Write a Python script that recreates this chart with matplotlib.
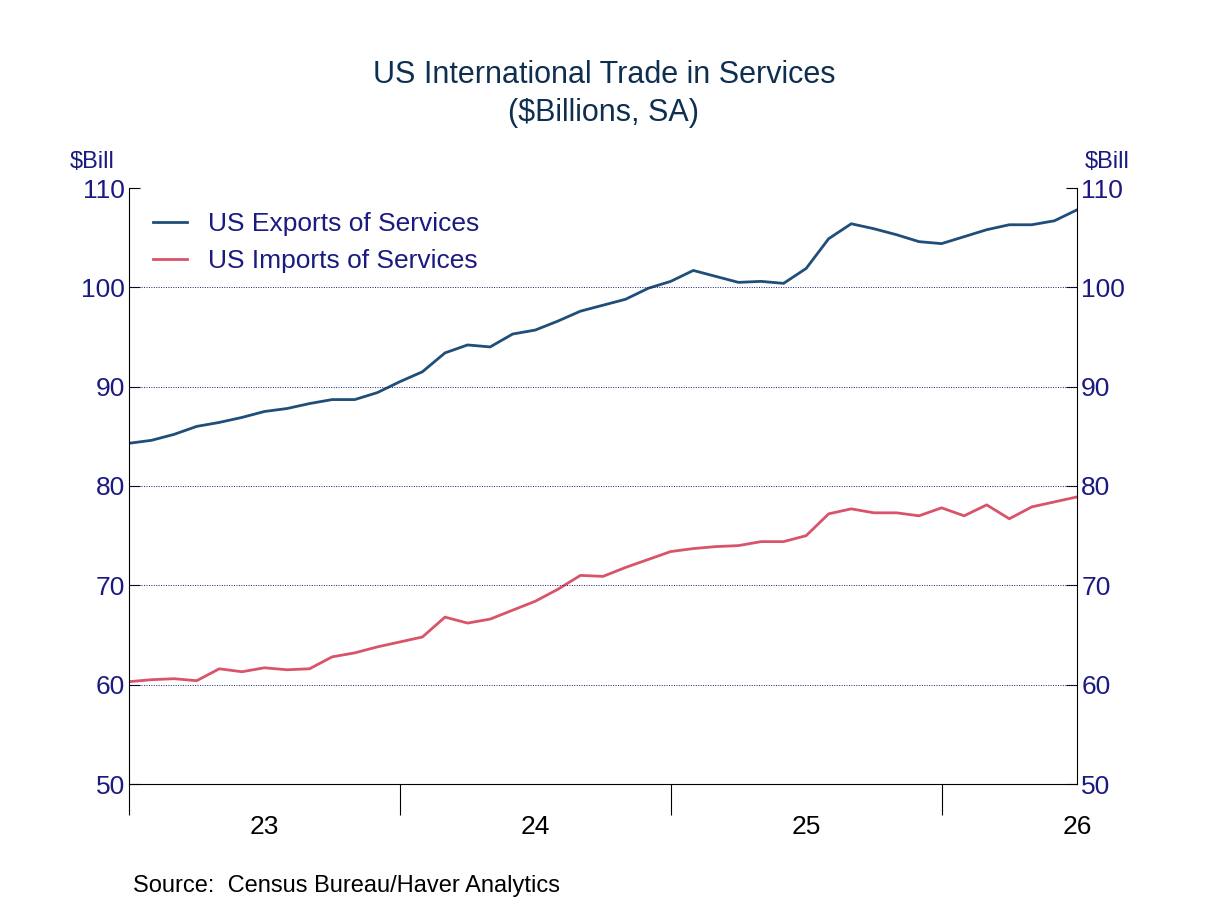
import numpy as np
import matplotlib.pyplot as plt

exports = [84.3, 84.6, 85.2, 86.0, 86.4, 86.9, 87.5, 87.8, 88.3, 88.7, 88.7, 89.4,
           90.5, 91.5, 93.4, 94.2, 94.0, 95.3, 95.7, 96.6, 97.6, 98.2, 98.8, 99.9,
           100.6, 101.7, 101.1, 100.5, 100.6, 100.4, 101.9, 104.9, 106.4, 105.9, 105.3, 104.6,
           104.4, 105.1, 105.8, 106.3, 106.3, 106.7, 107.8]
imports = [60.3, 60.5, 60.6, 60.4, 61.6, 61.3, 61.7, 61.5, 61.6, 62.8, 63.2, 63.8,
           64.3, 64.8, 66.8, 66.2, 66.6, 67.5, 68.4, 69.6, 71.0, 70.9, 71.8, 72.6,
           73.4, 73.7, 73.9, 74.0, 74.4, 74.4, 75.0, 77.2, 77.7, 77.3, 77.3, 77.0,
           77.8, 77.0, 78.1, 76.7, 77.9, 78.4, 78.9]
year_labels = ['23', '24', '25', '26']
months = np.arange(len(exports))

navy = '#1a1a80'
plt.rcParams['font.family'] = 'Liberation Sans'

fig = plt.figure(figsize=(12.08, 9.06), dpi=100)
ax = fig.add_axes([129/1208, 1 - 784/906, (1077-129)/1208, (784-188)/906])
ax.plot(months, exports, color='#1f4e79', lw=2, label='US Exports of Services')
ax.plot(months, imports, color='#d9536a', lw=2, label='US Imports of Services')
ax.set_xlim(0, 42)
ax.set_ylim(50, 110)
ax.set_yticks(range(50, 111, 10))
for y in range(60, 110, 10):
    ax.axhline(y, color='#1a1a80', lw=0.7, ls=(0, (1, 1.5)))
ax.set_xticks([0, 12, 24, 36])
ax.set_xticklabels([])
ax.tick_params(axis='x', length=22, direction='out', color='black')
for i, lab in enumerate(year_labels):
    xpos = 6 + 12*i if i < 3 else 42
    ax.text(xpos, 45.7, lab, ha='center', va='center', fontsize=19)
ax.tick_params(axis='y', which='both', direction='in', length=8, labelsize=19, pad=3,
               labelcolor=navy, left=True, right=True, labelleft=True, labelright=True)
for s in ['top']:
    ax.spines[s].set_visible(False)
ax.legend(loc='upper left', frameon=False, fontsize=19, handlelength=1.3,
          bbox_to_anchor=(0.0, 1.0), labelcolor=navy)
fig.text(0.5, 1 - 75/906, 'US International Trade in Services', ha='center', va='center',
         fontsize=22, color='#0f2f50')
fig.text(0.5, 1 - 113/906, '($Billions, SA)', ha='center', va='center', fontsize=22, color='#0f2f50')
fig.text(70/1208, 1 - 162/906, '$Bill', fontsize=17, color=navy, va='center')
fig.text(1085/1208, 1 - 162/906, '$Bill', fontsize=17, color=navy, va='center')
fig.text(133/1208, 1 - 886/906, 'Source:  Census Bureau/Haver Analytics', fontsize=17, va='center')
fig.savefig('out.png')
